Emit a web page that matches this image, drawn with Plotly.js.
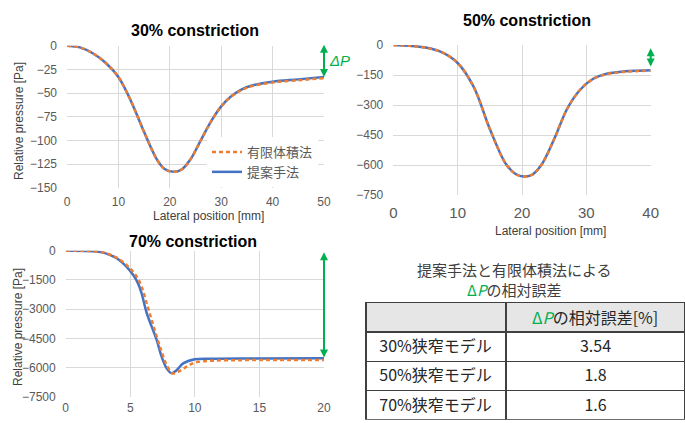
<!DOCTYPE html>
<html>
<head>
<meta charset="utf-8">
<script src="https://cdn.plot.ly/plotly-3.0.1.min.js"></script>
<style>html,body{margin:0;padding:0;background:#fff;}#chart{width:685px;height:423px;}</style>
</head>
<body>
<div id="chart"></div>
<script>
// ---- data ----
const x30 = [0, 2.5, 5, 7.5, 10, 12.5, 15, 17.5, 19, 20.7, 22.3, 24, 26, 28, 30, 32, 34, 36, 40, 45, 50];
const prop30 = [0, -1.8, -8, -18, -33, -59, -91, -120, -130, -133, -130.5, -120, -100, -80, -64, -53, -46, -42, -38, -35.5, -33];
const fvm30  = [0, -1.8, -8, -18, -33, -59, -91, -120, -130, -133, -130.5, -120, -100, -80, -64, -53.3, -46.5, -42.6, -38.8, -36.4, -34.2];

const x50 = [0, 2.5, 5, 7.5, 10, 12.5, 15, 17.5, 19, 20.3, 21.5, 23, 25, 27, 29, 31, 33, 35, 37.5, 40];
const prop50 = [0, -4, -13, -36, -90, -210, -420, -595, -645, -658, -650, -600, -470, -320, -225, -170, -145, -135, -129, -126];
const fvm50  = [0, -4, -13, -36, -90, -210, -420, -595, -645, -658, -650, -600, -470, -320, -225, -171, -147, -137, -131, -128.3];

const x70p = [0, 1.5, 2.9, 3.95, 4.7, 5.23, 5.6, 5.88, 6.14, 6.32, 6.66, 7.05, 7.43, 7.82, 8.2, 8.6, 9.1, 10, 11.4, 14, 20];
const prop70 = [0, -10, -100, -390, -820, -1250, -1680, -2190, -2880, -3300, -3900, -4590, -5445, -6045, -6300, -6130, -5790, -5580, -5550, -5535, -5530];
const x70f = [0, 1.5, 2.9, 3.95, 4.85, 5.5, 5.88, 6.27, 6.66, 7.05, 7.43, 7.82, 8.28, 8.72, 9.37, 10, 11.4, 14, 20];
const fvm70  = [0, -8, -90, -360, -820, -1335, -1850, -2700, -3560, -4420, -5190, -5870, -6300, -6215, -5960, -5750, -5650, -5620, -5615];

const seriesNames = ['提案手法', '有限体積法'];
const chartTitles = ['30% constriction', '50% constriction', '70% constriction'];
const tableRows = ['30%狭窄モデル', '50%狭窄モデル', '70%狭窄モデル'];
const tableErrors = ['3.54', '1.8', '1.6'];
const tableHeaderText = '<span style="color:#00b050">Δ<i>P</i></span>の相対誤差[%]';
const tableTitle = '提案手法と有限体積法による<br><span style="color:#00b050">Δ<i>P</i></span>の相対誤差';

// ---- styling ----
const W = 685, H = 423;
const px = v => v / W, py = v => 1 - v / H;
const BLUE = '#4472c4', ORANGE = '#ed7d31', GREEN = '#00b050';
const LATIN = 'Liberation Sans, Arial, sans-serif';
const CJK = 'Noto Sans CJK JP, sans-serif';

function lineTrace(x, y, xa, ya, name, color, dash, showlegend, rank) {
  return {
    type: 'scatter', mode: 'lines', x: x, y: y, xaxis: xa, yaxis: ya, name: name,
    line: {color: color, width: 2.5, dash: dash, shape: 'spline', smoothing: 1.0},
    showlegend: showlegend, legendrank: rank, hoverinfo: 'skip'
  };
}

const data = [
  lineTrace(x30, prop30, 'x', 'y', seriesNames[0], BLUE, 'solid', true, 2),
  lineTrace(x30, fvm30, 'x', 'y', seriesNames[1], ORANGE, '4px,3px', true, 1),
  lineTrace(x50, prop50, 'x2', 'y2', seriesNames[0], BLUE, 'solid', false, 2),
  lineTrace(x50, fvm50, 'x2', 'y2', seriesNames[1], ORANGE, '4px,3px', false, 1),
  lineTrace(x70p, prop70, 'x3', 'y3', seriesNames[0], BLUE, 'solid', false, 2),
  lineTrace(x70f, fvm70, 'x3', 'y3', seriesNames[1], ORANGE, '4px,3px', false, 1),
  {
    type: 'table',
    domain: {x: [px(366), 1], y: [py(420), py(302.7)]},
    columnwidth: [140, 179],
    header: {
      values: ['', ''], height: 29.3,
      fill: {color: '#e7e6e6'}, line: {color: '#404040', width: 1.5},
      align: ['left', 'center'], font: {family: CJK, size: 16, color: '#262626'}
    },
    cells: {
      values: [tableRows, tableErrors], height: 29.3,
      prefix: ['\u2004', ''],
      fill: {color: '#ffffff'}, line: {color: '#404040', width: 1.5},
      align: ['left', 'center'], font: {family: CJK, size: 16, color: '#262626'}
    }
  }
];

function axis(domain, range, dtick, size, standoff, anchor) {
  return {
    domain: domain, range: range, dtick: dtick, anchor: anchor,
    showgrid: true, gridcolor: '#d9d9d9', gridwidth: 1,
    zeroline: false, showline: false, ticks: '',
    tickfont: {family: LATIN, size: size, color: '#595959'},
    ticklabelstandoff: standoff, fixedrange: true
  };
}

function ann(text, x, y, size, opts) {
  return Object.assign({text: text, x: px(x), y: py(y), xref: 'paper', yref: 'paper',
    xanchor: 'center', yanchor: 'middle',
    showarrow: false, font: {family: LATIN, size: size, color: '#404040'}}, opts || {});
}

function arrow(xa, ya, x, y0, y1) {
  return {x: x, y: y1, ax: x, ay: y0, xref: xa, yref: ya, axref: xa, ayref: ya, text: '',
    showarrow: true, arrowhead: 2, arrowside: 'end+start', arrowsize: 0.8, arrowwidth: 2,
    arrowcolor: GREEN, standoff: 0, startstandoff: 0};
}

const layout = {
  width: W, height: H, margin: {l: 0, r: 0, t: 0, b: 0},
  paper_bgcolor: '#fff', plot_bgcolor: '#fff',
  xaxis:  axis([px(67), px(324)], [0, 50], 10, 12, 5, 'y'),
  yaxis:  axis([py(188), py(45.7)], [-150, 0], 25, 12, 9, 'x'),
  xaxis2: axis([px(393.3), px(650.7)], [0, 40], 10, 15, 7, 'y2'),
  yaxis2: axis([py(195), py(45)], [-750, 0], 150, 12, 9, 'x2'),
  xaxis3: axis([px(65.7), px(324)], [0, 20], 5, 12, 2, 'y3'),
  yaxis3: axis([py(396.7), py(250.7)], [-7500, 0], 1500, 12, 9, 'x3'),
  showlegend: true,
  legend: {x: px(207), y: py(137), xanchor: 'left', yanchor: 'top', bgcolor: '#fff',
    font: {family: CJK, size: 13, color: '#595959'}, tracegroupgap: 0, itemwidth: 30,
    entrywidth: 125, entrywidthmode: 'pixels'},
  annotations: [
    ann('<b>' + chartTitles[0] + '</b>', 195, 31, 16, {font: {family: LATIN, size: 16, color: '#000'}}),
    ann('<b>' + chartTitles[1] + '</b>', 526.7, 20.7, 16, {font: {family: LATIN, size: 16, color: '#000'}}),
    ann('<b>' + chartTitles[2] + '</b>', 193.3, 241.7, 16, {font: {family: LATIN, size: 16, color: '#000'}}),
    ann('Lateral position [mm]', 208, 216, 12),
    ann('Lateral position [mm]', 550, 230.7, 12),
    ann('Relative pressure [Pa]', 19, 121, 12, {textangle: -90}),
    ann('Relative pressure [Pa]', 18, 327, 12, {textangle: -90}),
    ann('<i>ΔP</i>', 339, 61, 15, {font: {family: LATIN, size: 15, color: GREEN}}),
    ann(tableTitle, 514, 279, 15, {font: {family: CJK, size: 15, color: '#404040'}}),
    ann(tableHeaderText, 595, 317, 16, {font: {family: CJK, size: 16, color: '#262626'}}),
    arrow('x', 'y', 50, 2.5, -33),
    arrow('x2', 'y2', 40, -8.5, -108),
    arrow('x3', 'y3', 20, 0, -5480)
  ]
};

Plotly.newPlot('chart', data, layout, {staticPlot: true, displayModeBar: false});
</script>
</body>
</html>
